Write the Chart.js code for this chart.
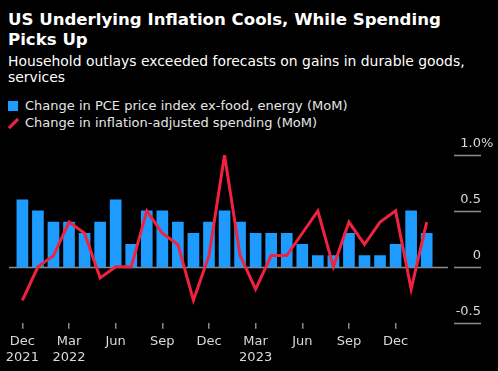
<!DOCTYPE html>
<html lang="en">
<head>
    <meta charset="UTF-8">
    <title>US Underlying Inflation Cools, While Spending Picks Up</title>
    <script src="https://cdn.jsdelivr.net/npm/chart.js"></script>
    <style>
        body {
            margin: 0;
            background: #000;
            width: 498px;
            height: 371px;
            overflow: hidden;
            font-family: "DejaVu Sans", sans-serif;
            color: #fff;
        }

        .title {
            position: absolute;
            left: 8px;
            top: 10px;
            font-size: 16.6px;
            line-height: 20px;
            font-weight: bold;
        }

        .subtitle {
            position: absolute;
            left: 8px;
            top: 53px;
            font-size: 13.9px;
            line-height: 16px;
        }

        .legend {
            position: absolute;
            left: 8px;
            top: 97px;
            font-size: 13px;
            line-height: 17px;
            color: #e6e6e6;
        }

        .legend .item { display: flex; align-items: center; }
        .legend .box { width: 10px; height: 10px; background: #1e9bff; margin-right: 7px; }
        .legend .stroke { width: 10px; height: 10px; margin-right: 7px; position: relative; }
        .legend .stroke::after {
            content: "";
            position: absolute;
            left: -1px;
            top: 4px;
            width: 13px;
            height: 3px;
            background: #f0223f;
            transform: rotate(-45deg);
        }

        .chart-container {
            position: absolute;
            left: 0;
            top: 130px;
            width: 498px;
            height: 241px;
        }
    </style>
</head>
<body>
    <div class="title">US Underlying Inflation Cools, While Spending<br>Picks Up</div>
    <div class="subtitle">Household outlays exceeded forecasts on gains in durable goods,<br>services</div>
    <div class="legend">
        <div class="item"><span class="box"></span>Change in PCE price index ex-food, energy (MoM)</div>
        <div class="item"><span class="stroke"></span>Change in inflation-adjusted spending (MoM)</div>
    </div>

    <div class="chart-container">
        <canvas id="chart"></canvas>
    </div>

    <script>
        // месяцы: Dec 2021 .. Feb 2024
        const months = [
            'Dec 2021', 'Jan 2022', 'Feb 2022', 'Mar 2022', 'Apr 2022', 'May 2022', 'Jun 2022',
            'Jul 2022', 'Aug 2022', 'Sep 2022', 'Oct 2022', 'Nov 2022', 'Dec 2022',
            'Jan 2023', 'Feb 2023', 'Mar 2023', 'Apr 2023', 'May 2023', 'Jun 2023',
            'Jul 2023', 'Aug 2023', 'Sep 2023', 'Oct 2023', 'Nov 2023', 'Dec 2023',
            'Jan 2024', 'Feb 2024'
        ];

        // core PCE, % MoM
        const pceCore = [0.6, 0.5, 0.4, 0.4, 0.3, 0.4, 0.6, 0.2, 0.5, 0.5, 0.4, 0.3, 0.4,
                         0.5, 0.4, 0.3, 0.3, 0.3, 0.2, 0.1, 0.1, 0.3, 0.1, 0.1, 0.2, 0.5, 0.3];

        // real spending, % MoM
        const realSpending = [-0.3, 0.0, 0.1, 0.4, 0.3, -0.1, 0.0, 0.0, 0.5, 0.3, 0.2, -0.3, 0.1,
                              1.0, 0.1, -0.2, 0.1, 0.1, 0.3, 0.5, 0.0, 0.4, 0.2, 0.4, 0.5, -0.2, 0.4];

        // подписи оси X (индекс месяца -> текст)
        const xTickIndex = [0, 3, 6, 9, 12, 15, 18, 21, 24];
        const xTickLabels = [['Dec', '2021'], ['Mar', '2022'], 'Jun', 'Sep', 'Dec', ['Mar', '2023'], 'Jun', 'Sep', 'Dec'];

        const yTicks = [-0.5, 0, 0.5, 1.0];
        const yTickLabels = ['-0.5', '0', '0.5', '1.0'];

        const font = '"DejaVu Sans", sans-serif';

        // правая ось и нулевая линия рисуются вручную
        const axisPlugin = {
            id: 'bbgAxis',
            beforeDatasetsDraw(chart) {
                const ctx = chart.ctx;
                const y = chart.scales.y;
                const area = chart.chartArea;
                const py = Math.round(y.getPixelForValue(0)) + 0.5;
                ctx.save();
                ctx.strokeStyle = '#8c8c8c';
                ctx.lineWidth = 1.5;
                ctx.beginPath();
                ctx.moveTo(area.left, py);
                ctx.lineTo(area.right, py);
                ctx.stroke();
                ctx.restore();
            },
            afterDraw(chart) {
                const ctx = chart.ctx;
                const y = chart.scales.y;
                const x0 = chart.chartArea.right + 6;
                const x1 = x0 + 27;
                ctx.save();
                ctx.strokeStyle = '#8c8c8c';
                ctx.lineWidth = 1.5;
                ctx.font = '13px ' + font;
                ctx.fillStyle = '#d9d9d9';
                ctx.textBaseline = 'alphabetic';
                yTicks.forEach((v, i) => {
                    const py = Math.round(y.getPixelForValue(v)) + 0.5;
                    ctx.beginPath();
                    ctx.moveTo(x0, py);
                    ctx.lineTo(x1, py);
                    ctx.stroke();
                    ctx.textAlign = 'right';
                    ctx.fillText(yTickLabels[i], x1, py - 8.5);
                    if (v === 1.0) {
                        ctx.textAlign = 'left';
                        ctx.fillText('%', x1, py - 8.5);
                    }
                });
                ctx.restore();
            }
        };

        const ctx = document.getElementById('chart').getContext('2d');

        new Chart(ctx, {
            data: {
                datasets: [
                    {
                        type: 'line',
                        label: 'Change in inflation-adjusted spending (MoM)',
                        data: realSpending.map((v, i) => ({ x: i, y: v })),
                        borderColor: '#f0223f',
                        borderWidth: 3,
                        pointRadius: 0,
                        tension: 0,
                        order: 0
                    },
                    {
                        type: 'bar',
                        label: 'Change in PCE price index ex-food, energy (MoM)',
                        data: pceCore.map((v, i) => ({ x: i, y: v })),
                        backgroundColor: '#1e9bff',
                        barThickness: 11,
                        order: 1
                    }
                ]
            },
            options: {
                responsive: true,
                maintainAspectRatio: false,
                animation: false,
                layout: { padding: { left: 9, right: 50, top: 25, bottom: 0 } },
                plugins: {
                    legend: { display: false },
                    tooltip: { enabled: false }
                },
                scales: {
                    x: {
                        type: 'linear',
                        offset: false,
                        min: -0.86,
                        max: 27.37,
                        afterBuildTicks: s => { s.ticks = xTickIndex.map(v => ({ value: v })); },
                        afterFit: s => { s.height = 48.3; },
                        ticks: {
                            autoSkip: false,
                            maxRotation: 0,
                            color: '#d9d9d9',
                            padding: 4,
                            font: { family: font, size: 13, lineHeight: 1.3 },
                            callback: v => xTickLabels[xTickIndex.indexOf(v)]
                        },
                        grid: {
                            offset: false,
                            drawOnChartArea: false,
                            tickLength: 6,
                            color: '#8c8c8c',
                            lineWidth: 1.5
                        },
                        border: { display: false }
                    },
                    y: {
                        display: false,
                        min: -0.5,
                        max: 1.0
                    }
                }
            },
            plugins: [axisPlugin]
        });
    </script>
</body>
</html>
